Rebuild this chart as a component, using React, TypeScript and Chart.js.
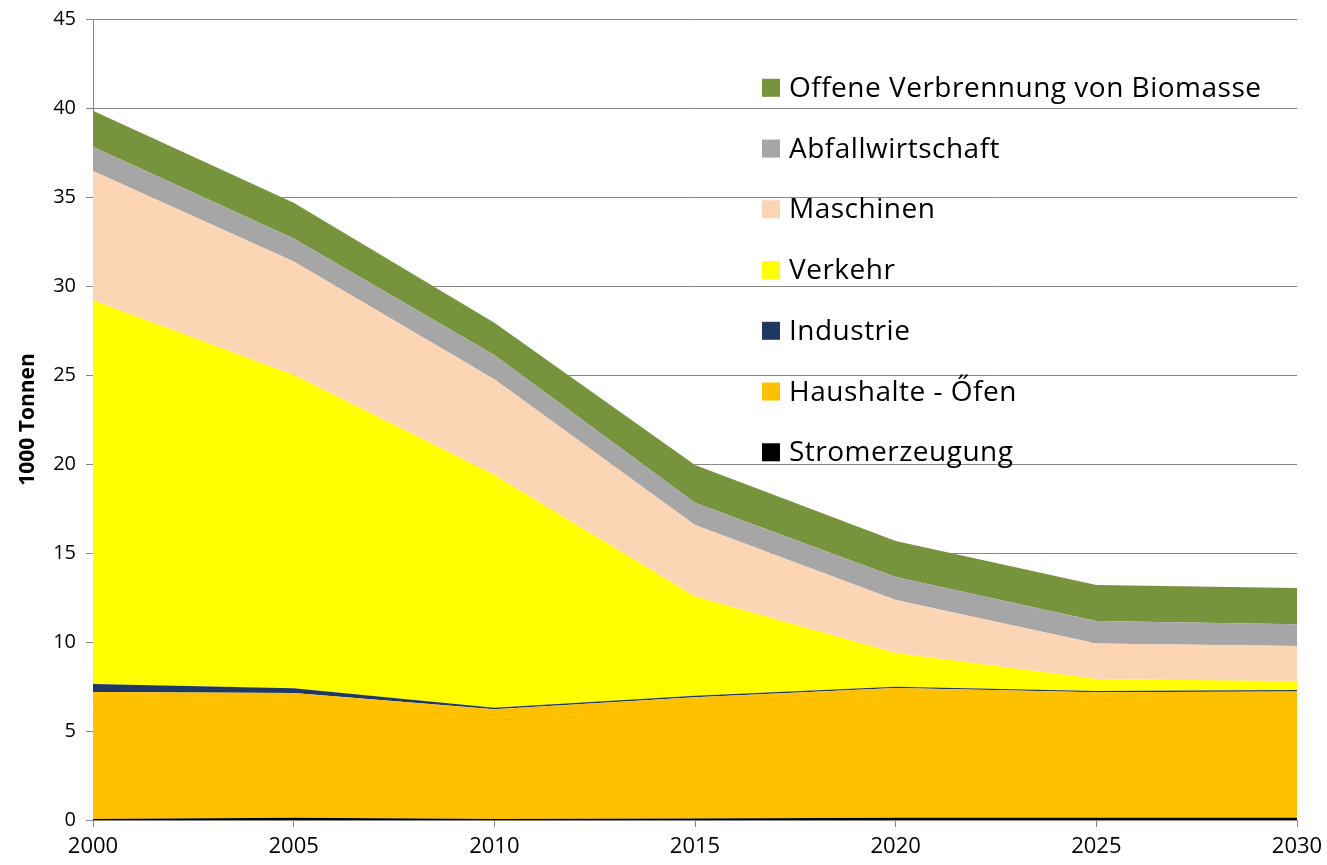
import React, { useEffect, useRef } from "react";
import { Chart, registerables } from "chart.js";

Chart.register(...registerables);

const years = [2000, 2005, 2010, 2015, 2020, 2025, 2030];
const yTicks = [0, 5, 10, 15, 20, 25, 30, 35, 40, 45];

const stromerzeugung = [0.05, 0.12, 0.05, 0.08, 0.12, 0.12, 0.12];
const haushalteOefen = [7.14, 7.01, 6.17, 6.82, 7.29, 7.05, 7.1];
const industrie = [0.45, 0.27, 0.08, 0.08, 0.08, 0.08, 0.08];
const verkehr = [21.56, 17.6, 13.08, 5.57, 1.89, 0.67, 0.5];
const maschinen = [7.26, 6.37, 5.38, 4.02, 2.98, 2.0, 1.98];
const abfallwirtschaft = [1.36, 1.3, 1.36, 1.26, 1.29, 1.26, 1.22];
const biomasse = [2.02, 2.01, 1.82, 2.11, 2.02, 2.02, 2.03];

const seriesNames = [
  "Stromerzeugung",
  "Haushalte - Őfen",
  "Industrie",
  "Verkehr",
  "Maschinen",
  "Abfallwirtschaft",
  "Offene Verbrennung von Biomasse",
];
const seriesColors = ["#000000", "#FFC000", "#1F3864", "#FFFF00", "#FCD5B5", "#A6A6A6", "#77933C"];
const seriesValues = [stromerzeugung, haushalteOefen, industrie, verkehr, maschinen, abfallwirtschaft, biomasse];

const FONT = "'Open Sans', 'Noto Sans', sans-serif";

const insideLegend = {
  id: "insideLegend",
  afterDraw(chart: any) {
    const ctx = chart.ctx;
    const ds = chart.data.datasets;
    ctx.save();
    ctx.font = `28px ${FONT}`;
    try {
      (ctx as any).letterSpacing = "0.5px";
    } catch (e) {}
    ctx.textBaseline = "alphabetic";
    ctx.textAlign = "left";
    const x0 = 762;
    const y0 = 87.8;
    const step = 60.75;
    for (let k = 0; k < ds.length; k++) {
      const d = ds[ds.length - 1 - k];
      const cy = y0 + k * step;
      ctx.fillStyle = d.backgroundColor;
      ctx.fillRect(x0, cy - 9, 18, 18);
      ctx.fillStyle = "#000";
      ctx.fillText(d.label, x0 + 27, cy + 9);
    }
    ctx.restore();
  },
};

export default function App() {
  const ref = useRef<HTMLCanvasElement>(null);
  useEffect(() => {
    if (!ref.current) return;
    const chart = new Chart(ref.current, {
      type: "line",
      data: {
        labels: years,
        datasets: seriesValues.map((vals, i) => ({
          label: seriesNames[i],
          data: vals.map((v, j) => ({ x: years[j], y: v })),
          backgroundColor: seriesColors[i],
          borderColor: seriesColors[i],
          borderWidth: 0,
          pointRadius: 0,
          tension: 0,
          fill: i === 0 ? "origin" : "-1",
        })),
      },
      options: {
        animation: false,
        responsive: true,
        maintainAspectRatio: false,
        layout: { padding: { left: 0, right: 30, top: 19, bottom: 0 } },
        plugins: {
          legend: { display: false },
          tooltip: { enabled: false },
        },
        scales: {
          x: {
            type: "linear",
            min: 2000,
            max: 2030,
            afterFit: (s: any) => {
              s.height = 45;
              s.paddingLeft = 0;
              s.paddingRight = 0;
            },
            ticks: {
              stepSize: 5,
              color: "#000",
              font: { family: FONT, size: 22 },
              padding: 7,
              callback: (v: any) => String(v),
              maxRotation: 0,
            },
            grid: {
              drawOnChartArea: false,
              drawTicks: true,
              tickLength: 7,
              color: "#868686",
            },
            border: { display: true, color: "#868686" },
          },
          y: {
            stacked: true,
            min: 0,
            max: 45,
            afterFit: (s: any) => {
              s.width = 93;
              s.paddingTop = 0;
              s.paddingBottom = 0;
            },
            afterBuildTicks: (s: any) => {
              s.ticks = yTicks.map((v) => ({ value: v }));
            },
            ticks: {
              color: "#000",
              font: { family: FONT, size: 20 },
              padding: 10,
            },
            grid: {
              color: "#868686",
              drawTicks: true,
              tickLength: 7,
            },
            border: { display: true, color: "#868686" },
            title: {
              display: true,
              text: "1000 Tonnen",
              color: "#000",
              font: { family: FONT, size: 21, weight: "bold" },
              padding: { top: 15, bottom: 0 },
            },
          },
        },
      },
      plugins: [insideLegend],
    });
    return () => chart.destroy();
  }, []);
  return (
    <div style={{ position: "fixed", left: 0, top: 0, width: 1327, height: 865, background: "#fff" }}>
      <canvas ref={ref} />
    </div>
  );
}
